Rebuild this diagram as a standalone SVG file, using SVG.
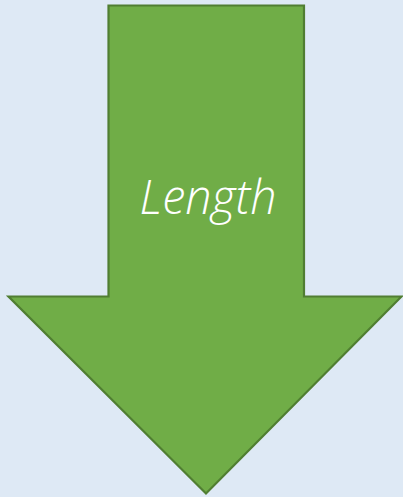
<svg xmlns="http://www.w3.org/2000/svg" width="403" height="497" viewBox="0 0 403 497">
<style>
.arrow{fill:#70ad47;stroke:#507e32;stroke-width:2.2;stroke-linejoin:miter}
.lbl{font-family:"Open Sans","DejaVu Sans",sans-serif;font-style:italic;font-weight:300;fill:#ffffff}
</style>
<rect x="0" y="0" width="403" height="497" fill="#dee9f5"/>
<g id="arrow">
<polygon class="arrow" points="108.5,5.5 304,5.5 304,296.5 401.5,296.5 206,493.5 8.5,296.5 108.5,296.5"/>
<text class="lbl" x="208" y="214" font-size="48" text-anchor="middle" textLength="137" lengthAdjust="spacingAndGlyphs">Length</text>
</g>
</svg>
